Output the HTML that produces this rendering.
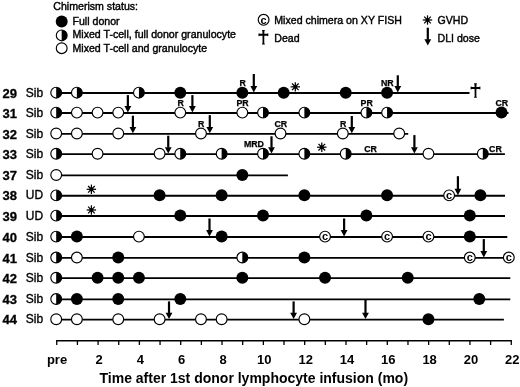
<!DOCTYPE html>
<html><head><meta charset="utf-8"><style>
html,body{margin:0;padding:0;background:#fff;}
body{width:520px;height:387px;overflow:hidden;}
svg{display:block;will-change:transform;}
text{font-family:"Liberation Sans",sans-serif;fill:#000;}
.rn{font-size:13px;font-weight:bold;stroke:#000;stroke-width:0.3px;}
.rd{font-size:12px;stroke:#000;stroke-width:0.35px;}
.lb{font-size:8.8px;font-weight:bold;stroke:#000;stroke-width:0.25px;}
.cc{font-size:11px;font-weight:bold;}
.ax{font-size:13px;font-weight:bold;}
.tt{font-size:14px;font-weight:bold;}
.lg{font-size:10.6px;stroke:#000;stroke-width:0.4px;}
</style></head><body>
<svg width="520" height="387" viewBox="0 0 520 387">
<rect width="520" height="387" fill="#fff"/>
<text x="53.3" y="9.5" class="lg">Chimerism status:</text>
<circle cx="61.70" cy="21.40" r="5.98" fill="#000"/>
<circle cx="61.70" cy="35.40" r="5.40" fill="#fff" stroke="#000" stroke-width="1.15"/><path d="M61.70,30.00 A5.40,5.40 0 0 1 61.70,40.80 Z" fill="#000"/>
<circle cx="61.70" cy="48.20" r="5.40" fill="#fff" stroke="#000" stroke-width="1.15"/>
<text x="72.5" y="24.6" class="lg">Full donor</text>
<text x="72.5" y="38.3" class="lg">Mixed T-cell, full donor granulocyte</text>
<text x="72.5" y="52.1" class="lg">Mixed T-cell and granulocyte</text>
<circle cx="263.60" cy="19.80" r="5.40" fill="#fff" stroke="#000" stroke-width="1.15"/><text x="263.60" y="23.55" class="cc" text-anchor="middle">c</text>
<text x="274.3" y="24.2" class="lg">Mixed chimera on XY FISH</text>
<path d="M261.90,30.00 L264.90,30.00 L264.35,31.60 L264.25,42.80 L264.90,44.40 L261.90,44.40 L262.55,42.80 L262.45,31.60 Z" fill="#000"/><path d="M258.50,33.20 L260.00,33.75 L266.80,33.75 L268.30,33.20 L268.30,36.20 L266.80,35.65 L260.00,35.65 L258.50,36.20 Z" fill="#000"/>
<text x="274.3" y="41.9" class="lg">Dead</text>
<circle cx="427.50" cy="20.00" r="2.0" fill="#000"/><line x1="422.80" y1="20.00" x2="432.20" y2="20.00" stroke="#000" stroke-width="1.25"/><line x1="424.18" y1="16.68" x2="430.82" y2="23.32" stroke="#000" stroke-width="1.25"/><line x1="427.50" y1="15.30" x2="427.50" y2="24.70" stroke="#000" stroke-width="1.25"/><line x1="430.82" y1="16.68" x2="424.18" y2="23.32" stroke="#000" stroke-width="1.25"/>
<text x="437.5" y="24.4" class="lg">GVHD</text>
<rect x="426.70" y="27.70" width="2.2" height="12.00" fill="#000"/><path d="M424.40,39.20 L431.20,39.20 L427.80,45.60 Z" fill="#000"/>
<text x="437.5" y="41.9" class="lg">DLI dose</text>
<text x="2.6" y="97.75" class="rn">29</text>
<text x="25.8" y="96.75" class="rd">Sib</text>
<line x1="56.20" y1="93.00" x2="469.50" y2="93.00" stroke="#000" stroke-width="1.9"/>
<circle cx="56.20" cy="92.65" r="5.40" fill="#fff" stroke="#000" stroke-width="1.15"/><path d="M56.20,87.25 A5.40,5.40 0 0 1 56.20,98.05 Z" fill="#000"/>
<circle cx="76.88" cy="92.65" r="5.40" fill="#fff" stroke="#000" stroke-width="1.15"/><path d="M76.88,87.25 A5.40,5.40 0 0 1 76.88,98.05 Z" fill="#000"/>
<circle cx="138.92" cy="92.65" r="5.40" fill="#fff" stroke="#000" stroke-width="1.15"/><path d="M138.92,87.25 A5.40,5.40 0 0 1 138.92,98.05 Z" fill="#000"/>
<circle cx="180.28" cy="92.65" r="5.98" fill="#000"/>
<circle cx="242.32" cy="92.65" r="5.98" fill="#000"/>
<circle cx="283.68" cy="92.65" r="5.98" fill="#000"/>
<circle cx="345.72" cy="92.65" r="5.98" fill="#000"/>
<circle cx="387.08" cy="92.65" r="5.98" fill="#000"/>
<text x="242.62" y="85.65" class="lb" text-anchor="middle">R</text>
<rect x="252.70" y="74.00" width="2.2" height="12.60" fill="#000"/><path d="M250.40,86.10 L257.20,86.10 L253.80,92.50 Z" fill="#000"/>
<circle cx="295.30" cy="86.85" r="2.0" fill="#000"/><line x1="290.60" y1="86.85" x2="300.00" y2="86.85" stroke="#000" stroke-width="1.25"/><line x1="291.98" y1="83.53" x2="298.63" y2="90.17" stroke="#000" stroke-width="1.25"/><line x1="295.30" y1="82.15" x2="295.30" y2="91.55" stroke="#000" stroke-width="1.25"/><line x1="298.63" y1="83.53" x2="291.98" y2="90.17" stroke="#000" stroke-width="1.25"/>
<text x="387.38" y="85.65" class="lb" text-anchor="middle">NR</text>
<rect x="396.69" y="75.30" width="2.2" height="11.30" fill="#000"/><path d="M394.39,86.10 L401.19,86.10 L397.79,92.50 Z" fill="#000"/>
<path d="M474.00,83.35 L477.00,83.35 L476.45,84.95 L476.35,96.15 L477.00,97.75 L474.00,97.75 L474.65,96.15 L474.55,84.95 Z" fill="#000"/><path d="M470.60,86.55 L472.10,87.10 L478.90,87.10 L480.40,86.55 L480.40,89.55 L478.90,89.00 L472.10,89.00 L470.60,89.55 Z" fill="#000"/>
<text x="2.6" y="117.70" class="rn">31</text>
<text x="25.8" y="116.70" class="rd">Sib</text>
<line x1="56.20" y1="112.95" x2="508.50" y2="112.95" stroke="#000" stroke-width="1.9"/>
<circle cx="56.20" cy="112.60" r="5.40" fill="#fff" stroke="#000" stroke-width="1.15"/><path d="M56.20,107.20 A5.40,5.40 0 0 1 56.20,118.00 Z" fill="#000"/>
<circle cx="76.88" cy="112.60" r="5.40" fill="#fff" stroke="#000" stroke-width="1.15"/>
<circle cx="97.56" cy="112.60" r="5.40" fill="#fff" stroke="#000" stroke-width="1.15"/>
<circle cx="118.24" cy="112.60" r="5.40" fill="#fff" stroke="#000" stroke-width="1.15"/>
<circle cx="180.28" cy="112.60" r="5.40" fill="#fff" stroke="#000" stroke-width="1.15"/>
<circle cx="242.32" cy="112.60" r="5.40" fill="#fff" stroke="#000" stroke-width="1.15"/>
<circle cx="263.00" cy="112.60" r="5.40" fill="#fff" stroke="#000" stroke-width="1.15"/><path d="M263.00,107.20 A5.40,5.40 0 0 1 263.00,118.00 Z" fill="#000"/>
<circle cx="304.36" cy="112.60" r="5.40" fill="#fff" stroke="#000" stroke-width="1.15"/><path d="M304.36,107.20 A5.40,5.40 0 0 1 304.36,118.00 Z" fill="#000"/>
<circle cx="366.40" cy="112.60" r="5.40" fill="#fff" stroke="#000" stroke-width="1.15"/><path d="M366.40,107.20 A5.40,5.40 0 0 1 366.40,118.00 Z" fill="#000"/>
<circle cx="387.08" cy="112.60" r="5.40" fill="#fff" stroke="#000" stroke-width="1.15"/><path d="M387.08,107.20 A5.40,5.40 0 0 1 387.08,118.00 Z" fill="#000"/>
<circle cx="501.50" cy="112.60" r="5.98" fill="#000"/>
<rect x="126.76" y="95.10" width="2.2" height="11.45" fill="#000"/><path d="M124.46,106.05 L131.26,106.05 L127.86,112.45 Z" fill="#000"/>
<text x="180.58" y="105.60" class="lb" text-anchor="middle">R</text>
<rect x="191.30" y="95.10" width="2.2" height="11.45" fill="#000"/><path d="M189.00,106.05 L195.80,106.05 L192.40,112.45 Z" fill="#000"/>
<text x="242.62" y="105.60" class="lb" text-anchor="middle">PR</text>
<text x="366.70" y="105.60" class="lb" text-anchor="middle">PR</text>
<text x="501.80" y="105.60" class="lb" text-anchor="middle">CR</text>
<text x="2.6" y="138.60" class="rn">32</text>
<text x="25.8" y="137.60" class="rd">Sib</text>
<line x1="56.20" y1="133.85" x2="408.20" y2="133.85" stroke="#000" stroke-width="1.9"/>
<circle cx="56.20" cy="133.50" r="5.40" fill="#fff" stroke="#000" stroke-width="1.15"/>
<circle cx="76.88" cy="133.50" r="5.40" fill="#fff" stroke="#000" stroke-width="1.15"/>
<circle cx="118.24" cy="133.50" r="5.40" fill="#fff" stroke="#000" stroke-width="1.15"/>
<circle cx="200.96" cy="133.50" r="5.40" fill="#fff" stroke="#000" stroke-width="1.15"/>
<circle cx="280.50" cy="133.50" r="5.40" fill="#fff" stroke="#000" stroke-width="1.15"/>
<circle cx="342.80" cy="133.50" r="5.40" fill="#fff" stroke="#000" stroke-width="1.15"/>
<circle cx="399.20" cy="133.50" r="5.40" fill="#fff" stroke="#000" stroke-width="1.15"/>
<rect x="131.80" y="115.70" width="2.2" height="11.75" fill="#000"/><path d="M129.50,126.95 L136.30,126.95 L132.90,133.35 Z" fill="#000"/>
<text x="201.26" y="126.50" class="lb" text-anchor="middle">R</text>
<rect x="208.69" y="115.10" width="2.2" height="12.35" fill="#000"/><path d="M206.39,126.95 L213.19,126.95 L209.79,133.35 Z" fill="#000"/>
<text x="280.80" y="126.50" class="lb" text-anchor="middle">CR</text>
<text x="343.10" y="126.50" class="lb" text-anchor="middle">R</text>
<rect x="350.70" y="116.00" width="2.2" height="11.45" fill="#000"/><path d="M348.40,126.95 L355.20,126.95 L351.80,133.35 Z" fill="#000"/>
<text x="2.6" y="158.85" class="rn">33</text>
<text x="25.8" y="157.85" class="rd">Sib</text>
<line x1="56.20" y1="154.10" x2="504.90" y2="154.10" stroke="#000" stroke-width="1.9"/>
<circle cx="56.20" cy="153.75" r="5.40" fill="#fff" stroke="#000" stroke-width="1.15"/><path d="M56.20,148.35 A5.40,5.40 0 0 1 56.20,159.15 Z" fill="#000"/>
<circle cx="97.56" cy="153.75" r="5.40" fill="#fff" stroke="#000" stroke-width="1.15"/>
<circle cx="159.60" cy="153.75" r="5.40" fill="#fff" stroke="#000" stroke-width="1.15"/>
<circle cx="180.28" cy="153.75" r="5.40" fill="#fff" stroke="#000" stroke-width="1.15"/><path d="M180.28,148.35 A5.40,5.40 0 0 1 180.28,159.15 Z" fill="#000"/>
<circle cx="221.64" cy="153.75" r="5.40" fill="#fff" stroke="#000" stroke-width="1.15"/><path d="M221.64,148.35 A5.40,5.40 0 0 1 221.64,159.15 Z" fill="#000"/>
<circle cx="263.00" cy="153.75" r="5.40" fill="#fff" stroke="#000" stroke-width="1.15"/><path d="M263.00,148.35 A5.40,5.40 0 0 1 263.00,159.15 Z" fill="#000"/>
<circle cx="304.36" cy="153.75" r="5.40" fill="#fff" stroke="#000" stroke-width="1.15"/><path d="M304.36,148.35 A5.40,5.40 0 0 1 304.36,159.15 Z" fill="#000"/>
<circle cx="345.72" cy="153.75" r="5.40" fill="#fff" stroke="#000" stroke-width="1.15"/><path d="M345.72,148.35 A5.40,5.40 0 0 1 345.72,159.15 Z" fill="#000"/>
<circle cx="428.44" cy="153.75" r="5.40" fill="#fff" stroke="#000" stroke-width="1.15"/>
<circle cx="482.81" cy="153.75" r="5.40" fill="#fff" stroke="#000" stroke-width="1.15"/><path d="M482.81,148.35 A5.40,5.40 0 0 1 482.81,159.15 Z" fill="#000"/>
<rect x="167.14" y="135.70" width="2.2" height="12.00" fill="#000"/><path d="M164.84,147.20 L171.64,147.20 L168.24,153.60 Z" fill="#000"/>
<text x="253.90" y="146.75" class="lb" text-anchor="middle">MRD</text>
<rect x="270.40" y="136.30" width="2.2" height="11.40" fill="#000"/><path d="M268.10,147.20 L274.90,147.20 L271.50,153.60 Z" fill="#000"/>
<circle cx="321.79" cy="147.20" r="2.0" fill="#000"/><line x1="317.09" y1="147.20" x2="326.49" y2="147.20" stroke="#000" stroke-width="1.25"/><line x1="318.47" y1="143.88" x2="325.12" y2="150.52" stroke="#000" stroke-width="1.25"/><line x1="321.79" y1="142.50" x2="321.79" y2="151.90" stroke="#000" stroke-width="1.25"/><line x1="325.12" y1="143.88" x2="318.47" y2="150.52" stroke="#000" stroke-width="1.25"/>
<text x="370.64" y="151.65" class="lb" text-anchor="middle">CR</text>
<rect x="413.30" y="135.10" width="2.2" height="12.60" fill="#000"/><path d="M411.00,147.20 L417.80,147.20 L414.40,153.60 Z" fill="#000"/>
<text x="489.11" y="151.55" class="lb">CR</text>
<text x="2.6" y="180.10" class="rn">37</text>
<text x="25.8" y="179.10" class="rd">Sib</text>
<line x1="56.20" y1="175.35" x2="287.90" y2="175.35" stroke="#000" stroke-width="1.9"/>
<circle cx="56.20" cy="175.00" r="5.40" fill="#fff" stroke="#000" stroke-width="1.15"/>
<circle cx="242.32" cy="175.00" r="5.98" fill="#000"/>
<text x="2.6" y="200.45" class="rn">38</text>
<text x="25.8" y="199.45" class="rd">UD</text>
<line x1="56.20" y1="195.70" x2="505.00" y2="195.70" stroke="#000" stroke-width="1.9"/>
<circle cx="56.20" cy="195.35" r="5.40" fill="#fff" stroke="#000" stroke-width="1.15"/><path d="M56.20,189.95 A5.40,5.40 0 0 1 56.20,200.75 Z" fill="#000"/>
<circle cx="159.60" cy="195.35" r="5.98" fill="#000"/>
<circle cx="221.64" cy="195.35" r="5.98" fill="#000"/>
<circle cx="304.36" cy="195.35" r="5.98" fill="#000"/>
<circle cx="387.08" cy="195.35" r="5.98" fill="#000"/>
<circle cx="449.12" cy="195.35" r="5.40" fill="#fff" stroke="#000" stroke-width="1.15"/><text x="449.12" y="199.10" class="cc" text-anchor="middle">c</text>
<circle cx="480.41" cy="195.35" r="5.98" fill="#000"/>
<circle cx="91.40" cy="189.30" r="2.0" fill="#000"/><line x1="86.70" y1="189.30" x2="96.10" y2="189.30" stroke="#000" stroke-width="1.25"/><line x1="88.07" y1="185.98" x2="94.72" y2="192.62" stroke="#000" stroke-width="1.25"/><line x1="91.40" y1="184.60" x2="91.40" y2="194.00" stroke="#000" stroke-width="1.25"/><line x1="94.72" y1="185.98" x2="88.07" y2="192.62" stroke="#000" stroke-width="1.25"/>
<rect x="456.81" y="176.20" width="2.2" height="13.10" fill="#000"/><path d="M454.51,188.80 L461.31,188.80 L457.91,195.20 Z" fill="#000"/>
<text x="2.6" y="220.70" class="rn">39</text>
<text x="25.8" y="219.70" class="rd">UD</text>
<line x1="56.20" y1="215.95" x2="505.00" y2="215.95" stroke="#000" stroke-width="1.9"/>
<circle cx="56.20" cy="215.60" r="5.40" fill="#fff" stroke="#000" stroke-width="1.15"/><path d="M56.20,210.20 A5.40,5.40 0 0 1 56.20,221.00 Z" fill="#000"/>
<circle cx="180.28" cy="215.60" r="5.98" fill="#000"/>
<circle cx="263.00" cy="215.60" r="5.98" fill="#000"/>
<circle cx="366.40" cy="215.60" r="5.98" fill="#000"/>
<circle cx="469.80" cy="215.60" r="5.98" fill="#000"/>
<circle cx="91.40" cy="210.00" r="2.0" fill="#000"/><line x1="86.70" y1="210.00" x2="96.10" y2="210.00" stroke="#000" stroke-width="1.25"/><line x1="88.07" y1="206.68" x2="94.72" y2="213.32" stroke="#000" stroke-width="1.25"/><line x1="91.40" y1="205.30" x2="91.40" y2="214.70" stroke="#000" stroke-width="1.25"/><line x1="94.72" y1="206.68" x2="88.07" y2="213.32" stroke="#000" stroke-width="1.25"/>
<text x="2.6" y="241.70" class="rn">40</text>
<text x="25.8" y="240.70" class="rd">Sib</text>
<line x1="56.20" y1="236.95" x2="507.30" y2="236.95" stroke="#000" stroke-width="1.9"/>
<circle cx="56.20" cy="236.60" r="5.40" fill="#fff" stroke="#000" stroke-width="1.15"/><path d="M56.20,231.20 A5.40,5.40 0 0 1 56.20,242.00 Z" fill="#000"/>
<circle cx="76.88" cy="236.60" r="5.98" fill="#000"/>
<circle cx="138.92" cy="236.60" r="5.40" fill="#fff" stroke="#000" stroke-width="1.15"/>
<circle cx="221.64" cy="236.60" r="5.98" fill="#000"/>
<circle cx="325.04" cy="236.60" r="5.40" fill="#fff" stroke="#000" stroke-width="1.15"/><text x="325.04" y="240.35" class="cc" text-anchor="middle">c</text>
<circle cx="387.08" cy="236.60" r="5.40" fill="#fff" stroke="#000" stroke-width="1.15"/><text x="387.08" y="240.35" class="cc" text-anchor="middle">c</text>
<circle cx="428.44" cy="236.60" r="5.40" fill="#fff" stroke="#000" stroke-width="1.15"/><text x="428.44" y="240.35" class="cc" text-anchor="middle">c</text>
<circle cx="469.80" cy="236.60" r="5.98" fill="#000"/>
<rect x="208.40" y="218.50" width="2.2" height="12.05" fill="#000"/><path d="M206.10,230.05 L212.90,230.05 L209.50,236.45 Z" fill="#000"/>
<rect x="343.01" y="218.50" width="2.2" height="12.05" fill="#000"/><path d="M340.71,230.05 L347.51,230.05 L344.11,236.45 Z" fill="#000"/>
<text x="2.6" y="262.65" class="rn">41</text>
<text x="25.8" y="261.65" class="rd">Sib</text>
<line x1="56.20" y1="257.90" x2="508.80" y2="257.90" stroke="#000" stroke-width="1.9"/>
<circle cx="56.20" cy="257.55" r="5.40" fill="#fff" stroke="#000" stroke-width="1.15"/><path d="M56.20,252.15 A5.40,5.40 0 0 1 56.20,262.95 Z" fill="#000"/>
<circle cx="76.88" cy="257.55" r="5.40" fill="#fff" stroke="#000" stroke-width="1.15"/>
<circle cx="118.24" cy="257.55" r="5.98" fill="#000"/>
<circle cx="242.32" cy="257.55" r="5.40" fill="#fff" stroke="#000" stroke-width="1.15"/><path d="M242.32,252.15 A5.40,5.40 0 0 1 242.32,262.95 Z" fill="#000"/>
<circle cx="304.36" cy="257.55" r="5.98" fill="#000"/>
<circle cx="469.80" cy="257.55" r="5.40" fill="#fff" stroke="#000" stroke-width="1.15"/><text x="469.80" y="261.30" class="cc" text-anchor="middle">c</text>
<circle cx="508.80" cy="257.55" r="5.40" fill="#fff" stroke="#000" stroke-width="1.15"/><text x="508.80" y="261.30" class="cc" text-anchor="middle">c</text>
<rect x="482.70" y="239.10" width="2.2" height="12.40" fill="#000"/><path d="M480.40,251.00 L487.20,251.00 L483.80,257.40 Z" fill="#000"/>
<text x="2.6" y="282.85" class="rn">42</text>
<text x="25.8" y="281.85" class="rd">Sib</text>
<line x1="56.20" y1="278.10" x2="510.30" y2="278.10" stroke="#000" stroke-width="1.9"/>
<circle cx="56.20" cy="277.75" r="5.40" fill="#fff" stroke="#000" stroke-width="1.15"/><path d="M56.20,272.35 A5.40,5.40 0 0 1 56.20,283.15 Z" fill="#000"/>
<circle cx="97.56" cy="277.75" r="5.98" fill="#000"/>
<circle cx="118.24" cy="277.75" r="5.98" fill="#000"/>
<circle cx="138.92" cy="277.75" r="5.98" fill="#000"/>
<circle cx="242.32" cy="277.75" r="5.98" fill="#000"/>
<circle cx="325.04" cy="277.75" r="5.98" fill="#000"/>
<circle cx="407.76" cy="277.75" r="5.98" fill="#000"/>
<text x="2.6" y="304.15" class="rn">43</text>
<text x="25.8" y="303.15" class="rd">Sib</text>
<line x1="56.20" y1="299.40" x2="510.30" y2="299.40" stroke="#000" stroke-width="1.9"/>
<circle cx="56.20" cy="299.05" r="5.40" fill="#fff" stroke="#000" stroke-width="1.15"/><path d="M56.20,293.65 A5.40,5.40 0 0 1 56.20,304.45 Z" fill="#000"/>
<circle cx="76.88" cy="299.05" r="5.98" fill="#000"/>
<circle cx="118.24" cy="299.05" r="5.98" fill="#000"/>
<circle cx="180.28" cy="299.05" r="5.98" fill="#000"/>
<circle cx="479.29" cy="299.05" r="5.98" fill="#000"/>
<text x="2.6" y="324.35" class="rn">44</text>
<text x="25.8" y="323.35" class="rd">Sib</text>
<line x1="56.20" y1="319.60" x2="503.90" y2="319.60" stroke="#000" stroke-width="1.9"/>
<circle cx="56.20" cy="319.25" r="5.40" fill="#fff" stroke="#000" stroke-width="1.15"/>
<circle cx="76.88" cy="319.25" r="5.40" fill="#fff" stroke="#000" stroke-width="1.15"/>
<circle cx="118.24" cy="319.25" r="5.40" fill="#fff" stroke="#000" stroke-width="1.15"/>
<circle cx="159.60" cy="319.25" r="5.40" fill="#fff" stroke="#000" stroke-width="1.15"/>
<circle cx="200.96" cy="319.25" r="5.40" fill="#fff" stroke="#000" stroke-width="1.15"/>
<circle cx="221.64" cy="319.25" r="5.40" fill="#fff" stroke="#000" stroke-width="1.15"/>
<circle cx="304.36" cy="319.25" r="5.40" fill="#fff" stroke="#000" stroke-width="1.15"/>
<circle cx="428.44" cy="319.25" r="5.98" fill="#000"/>
<rect x="167.91" y="301.40" width="2.2" height="11.80" fill="#000"/><path d="M165.61,312.70 L172.41,312.70 L169.01,319.10 Z" fill="#000"/>
<rect x="292.51" y="301.40" width="2.2" height="11.80" fill="#000"/><path d="M290.21,312.70 L297.01,312.70 L293.61,319.10 Z" fill="#000"/>
<rect x="364.39" y="299.90" width="2.2" height="13.30" fill="#000"/><path d="M362.09,312.70 L368.89,312.70 L365.49,319.10 Z" fill="#000"/>
<line x1="56.10" y1="340.8" x2="511.92" y2="340.8" stroke="#000" stroke-width="1.4"/>
<line x1="56.75" y1="340.8" x2="56.75" y2="345.0" stroke="#000" stroke-width="1.3"/>
<line x1="77.41" y1="340.8" x2="77.41" y2="345.0" stroke="#000" stroke-width="1.3"/>
<line x1="98.07" y1="340.8" x2="98.07" y2="345.0" stroke="#000" stroke-width="1.3"/>
<line x1="118.73" y1="340.8" x2="118.73" y2="345.0" stroke="#000" stroke-width="1.3"/>
<line x1="139.39" y1="340.8" x2="139.39" y2="345.0" stroke="#000" stroke-width="1.3"/>
<line x1="160.05" y1="340.8" x2="160.05" y2="345.0" stroke="#000" stroke-width="1.3"/>
<line x1="180.71" y1="340.8" x2="180.71" y2="345.0" stroke="#000" stroke-width="1.3"/>
<line x1="201.37" y1="340.8" x2="201.37" y2="345.0" stroke="#000" stroke-width="1.3"/>
<line x1="222.03" y1="340.8" x2="222.03" y2="345.0" stroke="#000" stroke-width="1.3"/>
<line x1="242.69" y1="340.8" x2="242.69" y2="345.0" stroke="#000" stroke-width="1.3"/>
<line x1="263.35" y1="340.8" x2="263.35" y2="345.0" stroke="#000" stroke-width="1.3"/>
<line x1="284.01" y1="340.8" x2="284.01" y2="345.0" stroke="#000" stroke-width="1.3"/>
<line x1="304.67" y1="340.8" x2="304.67" y2="345.0" stroke="#000" stroke-width="1.3"/>
<line x1="325.33" y1="340.8" x2="325.33" y2="345.0" stroke="#000" stroke-width="1.3"/>
<line x1="345.99" y1="340.8" x2="345.99" y2="345.0" stroke="#000" stroke-width="1.3"/>
<line x1="366.65" y1="340.8" x2="366.65" y2="345.0" stroke="#000" stroke-width="1.3"/>
<line x1="387.31" y1="340.8" x2="387.31" y2="345.0" stroke="#000" stroke-width="1.3"/>
<line x1="407.97" y1="340.8" x2="407.97" y2="345.0" stroke="#000" stroke-width="1.3"/>
<line x1="428.63" y1="340.8" x2="428.63" y2="345.0" stroke="#000" stroke-width="1.3"/>
<line x1="449.29" y1="340.8" x2="449.29" y2="345.0" stroke="#000" stroke-width="1.3"/>
<line x1="469.95" y1="340.8" x2="469.95" y2="345.0" stroke="#000" stroke-width="1.3"/>
<line x1="490.61" y1="340.8" x2="490.61" y2="345.0" stroke="#000" stroke-width="1.3"/>
<line x1="511.27" y1="340.8" x2="511.27" y2="345.0" stroke="#000" stroke-width="1.3"/>
<text x="57.05" y="364.2" class="ax" text-anchor="middle">pre</text>
<text x="99.07" y="364.2" class="ax" text-anchor="middle">2</text>
<text x="140.39" y="364.2" class="ax" text-anchor="middle">4</text>
<text x="181.71" y="364.2" class="ax" text-anchor="middle">6</text>
<text x="223.03" y="364.2" class="ax" text-anchor="middle">8</text>
<text x="264.35" y="364.2" class="ax" text-anchor="middle">10</text>
<text x="305.67" y="364.2" class="ax" text-anchor="middle">12</text>
<text x="346.99" y="364.2" class="ax" text-anchor="middle">14</text>
<text x="388.31" y="364.2" class="ax" text-anchor="middle">16</text>
<text x="429.63" y="364.2" class="ax" text-anchor="middle">18</text>
<text x="470.95" y="364.2" class="ax" text-anchor="middle">20</text>
<text x="512.27" y="364.2" class="ax" text-anchor="middle">22</text>
<text x="99.5" y="383" class="tt">Time after 1st donor lymphocyte infusion (mo)</text>
</svg>
</body></html>
